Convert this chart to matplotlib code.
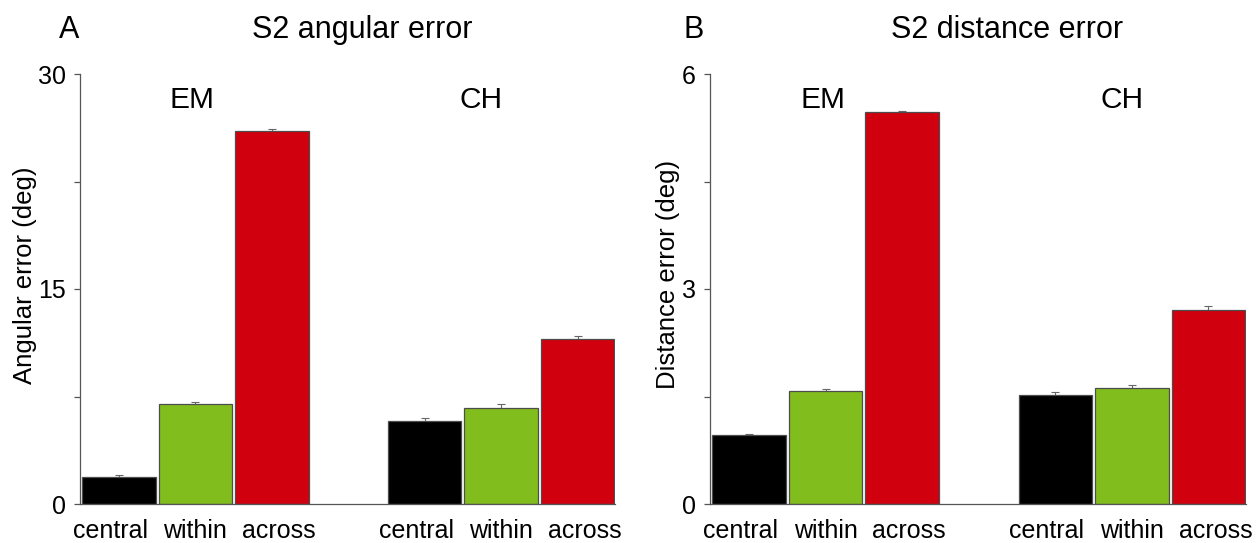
import matplotlib
matplotlib.use("Agg")
import matplotlib.pyplot as plt
import matplotlib.transforms as mtransforms
import numpy as np

plt.rcParams["font.family"] = ["Liberation Sans", "DejaVu Sans"]

# Conditions within each subject group
conditions = ["central", "within", "across"]
groups = ["EM", "CH"]

# S2 angular error (deg): EM then CH
angular_mean = [1.9, 7.0, 26.0, 5.8, 6.7, 11.5]
angular_sem = [0.12, 0.12, 0.15, 0.2, 0.25, 0.25]

# S2 distance error (deg): EM then CH
distance_mean = [0.96, 1.58, 5.47, 1.52, 1.62, 2.71]
distance_sem = [0.02, 0.02, 0.02, 0.04, 0.04, 0.05]

bar_colors = ["#000000", "#82bd1e", "#d0000e"] * 2
x_pos = np.array([0, 1, 2, 4, 5, 6])
# condition names are spread a little wider than the bars
label_shift = np.array([-0.11, 0.0, 0.09] * 2)

axis_grey = "#555555"


def draw_panel(ax, means, sems, ymax, ylabel, label_x, group_x):
    ax.errorbar(x_pos, means, yerr=sems, fmt="none", ecolor="#666666",
                elinewidth=0.8, capsize=3, capthick=0.8, zorder=1)
    ax.bar(x_pos, means, width=0.96, color=bar_colors,
           edgecolor="#4d4d4d", linewidth=0.9, zorder=2)

    ax.set_xlim(-0.51, 6.49)
    ax.set_ylim(0, ymax)
    ax.set_yticks([0, ymax / 2, ymax])
    ax.set_yticklabels([f"{v:g}" for v in (0, ymax / 2, ymax)])
    ax.set_yticks([ymax / 4, 3 * ymax / 4], minor=True)
    ax.set_xticks(x_pos + label_shift)
    ax.set_xticklabels(conditions * 2)

    for side in ("top", "right"):
        ax.spines[side].set_visible(False)
    for side in ("left", "bottom"):
        ax.spines[side].set_color(axis_grey)
        ax.spines[side].set_linewidth(0.9)

    ax.tick_params(axis="y", which="both", direction="out", length=4.3,
                   width=0.9, color=axis_grey, labelsize=18, pad=6)
    ax.tick_params(axis="x", length=0, labelsize=18, pad=11)

    ax.set_ylabel(ylabel, fontsize=18.5, va="center")
    ax.yaxis.set_label_coords(label_x, 0.533)

    # Group names above each triplet of bars
    trans = mtransforms.blended_transform_factory(ax.transData, ax.transAxes)
    for name, gx in zip(groups, group_x):
        ax.text(gx, 0.94, name, transform=trans, ha="center", va="center",
                fontsize=21.5)


fig = plt.figure(figsize=(12.58, 5.43), dpi=100)
ax_a = fig.add_axes([80 / 1258, 39 / 543, 535 / 1258, 430 / 543])
ax_b = fig.add_axes([710 / 1258, 39 / 543, 536 / 1258, 430 / 543])

draw_panel(ax_a, angular_mean, angular_sem, 30, "Angular error (deg)",
           -0.102, (0.95, 4.74))
draw_panel(ax_b, distance_mean, distance_sem, 6, "Distance error (deg)",
           -0.078, (0.97, 4.87))

# Panel letters and titles
fig.text(69 / 1258, 1 - 30 / 543, "A", ha="center", va="center", fontsize=22)
fig.text(362 / 1258, 1 - 30 / 543, "S2 angular error", ha="center",
         va="center", fontsize=22)
fig.text(694 / 1258, 1 - 30 / 543, "B", ha="center", va="center", fontsize=22)
fig.text(1007 / 1258, 1 - 30 / 543, "S2 distance error", ha="center",
         va="center", fontsize=22)

fig.savefig("out.png", dpi=100, facecolor="white")
